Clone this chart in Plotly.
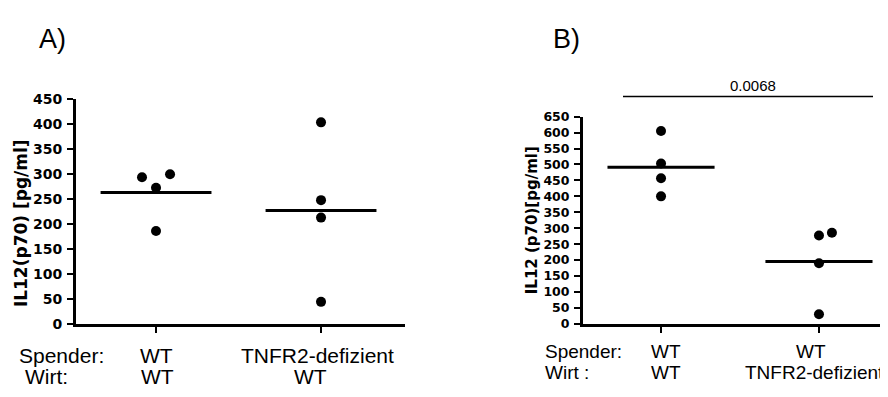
import numpy as np
import plotly.graph_objects as go

# ---------------- data ----------------
a_groups = [0, 1]
a_group1 = [294, 300, 273, 186]
a_group2 = [404, 248, 213, 44]
a_jitter1 = [-0.085, 0.085, 0, 0]
a_jitter2 = [0, 0, 0, 0]

b_groups = [0, 1]
b_group1 = [605, 503, 457, 400]
b_group2 = [277, 286, 190, 30]
b_jitter1 = [0, 0, 0, 0]
b_jitter2 = [0, 0.082, 0, 0]

a_yticks = list(range(0, 451, 50))
b_yticks = list(range(0, 651, 50))

a_title_y = "IL12(p70) [pg/ml]"
b_title_y = "IL12 (p70)[pg/ml]"
a_row1 = ["Spender:", "WT", "TNFR2-defizient"]
a_row2 = ["Wirt:", "WT", "WT"]
b_row1 = ["Spender:", "WT", "WT"]
b_row2 = ["Wirt :", "WT", "TNFR2-defizient"]
p_value = "0.0068"

# ---------------- layout helpers ----------------
# the page body has an 8px margin, so the figure is placed at (8, 8)
OFF = 8
W, H = 888 - OFF, 397 - OFF
def px(x):
    return (x - OFF) / W
def py(y):
    return 1 - (y - OFF) / H

fig = go.Figure()

def add_group(xref, yref, gx, vals, jit, hw):
    fig.add_trace(go.Scatter(
        x=[gx + j for j in jit], y=vals, mode="markers",
        marker=dict(color="black", size=10), xaxis=xref, yaxis=yref,
        showlegend=False, hoverinfo="y"))
    m = float(np.mean(vals))
    fig.add_trace(go.Scatter(
        x=[gx - hw, gx + hw], y=[m, m], mode="lines",
        line=dict(color="black", width=3), xaxis=xref, yaxis=yref,
        showlegend=False, hoverinfo="skip"))

add_group("x", "y", a_groups[0], a_group1, a_jitter1, 0.336)
add_group("x", "y", a_groups[1], a_group2, a_jitter2, 0.336)
add_group("x2", "y2", b_groups[0], b_group1, b_jitter1, 0.339)
add_group("x2", "y2", b_groups[1], b_group2, b_jitter2, 0.339)

tickfont_a = dict(family="DejaVu Sans", size=14, color="black", weight="bold")
tickfont_b = dict(family="DejaVu Sans", size=12.5, color="black", weight="bold")

ydom_bottom = py(329)
xaxis_common = dict(showline=True, linecolor="black", linewidth=3, ticks="outside",
                    ticklen=6, tickwidth=2, tickcolor="black", showticklabels=False,
                    showgrid=False, zeroline=False, tickvals=[0, 1], fixedrange=True)
yaxis_common = dict(showline=True, linecolor="black", linewidth=3, ticks="outside",
                    ticklen=6, tickwidth=2, tickcolor="black", showgrid=False,
                    zeroline=False, fixedrange=True, ticklabelstandoff=2)

fig.update_layout(
    width=W, height=H, autosize=False,
    margin=dict(l=0, r=0, t=0, b=0),
    paper_bgcolor="white", plot_bgcolor="white",
    xaxis=dict(domain=[px(76), px(405)], range=[-0.485, 1.509], anchor="y", **xaxis_common),
    yaxis=dict(domain=[ydom_bottom, py(95)], range=[0, 450], tickvals=a_yticks,
               tickfont=tickfont_a, anchor="x", **yaxis_common),
    xaxis2=dict(domain=[px(583), 1.0], range=[-0.494, 1.437], anchor="y2", **xaxis_common),
    yaxis2=dict(domain=[ydom_bottom, py(113)], range=[0, 650], tickvals=b_yticks,
                tickfont=tickfont_b, anchor="x2", **yaxis_common),
)

ann = []
lab_a = dict(family="Liberation Sans, Arial", size=21, color="black")
lab_b = dict(family="Liberation Sans, Arial", size=19, color="black")

def text(x, y, s, font, xanchor="center", angle=0):
    ann.append(dict(x=px(x), y=py(y), xref="paper", yref="paper", text=s,
                    showarrow=False, font=font, xanchor=xanchor, yanchor="middle",
                    textangle=angle))

# panel titles
text(37, 32, "A)", dict(family="Liberation Sans, Arial", size=27, color="black"), "left")
text(551, 32, "B)", dict(family="Liberation Sans, Arial", size=27, color="black"), "left")

# y titles
text(21, 224, a_title_y, dict(family="DejaVu Sans", size=17, color="black", weight="bold"), angle=-90)
text(532, 221, b_title_y, dict(family="DejaVu Sans", size=15, color="black", weight="bold"), angle=-90)

# category labels panel A
text(17, 362, a_row1[0], lab_a, "left")
text(156, 362, a_row1[1], lab_a)
text(317, 362, a_row1[2], lab_a)
text(23, 384, a_row2[0], lab_a, "left")
text(157, 384, a_row2[1], lab_a)
text(310, 384, a_row2[2], lab_a)

# category labels panel B
text(543, 358, b_row1[0], lab_b, "left")
text(666, 358, b_row1[1], lab_b)
text(811, 358, b_row1[2], lab_b)
text(543, 380, b_row2[0], lab_b, "left")
text(666, 380, b_row2[1], lab_b)
text(743, 380, b_row2[2], lab_b, "left")

# significance
text(753, 81, p_value, dict(family="Liberation Sans, Arial", size=15, color="black"))
fig.update_layout(annotations=ann)
fig.add_shape(type="line", xref="paper", yref="paper", x0=px(623), x1=px(873),
              y0=py(92), y1=py(92), line=dict(color="black", width=1.5))

fig.write_html("out.html")
